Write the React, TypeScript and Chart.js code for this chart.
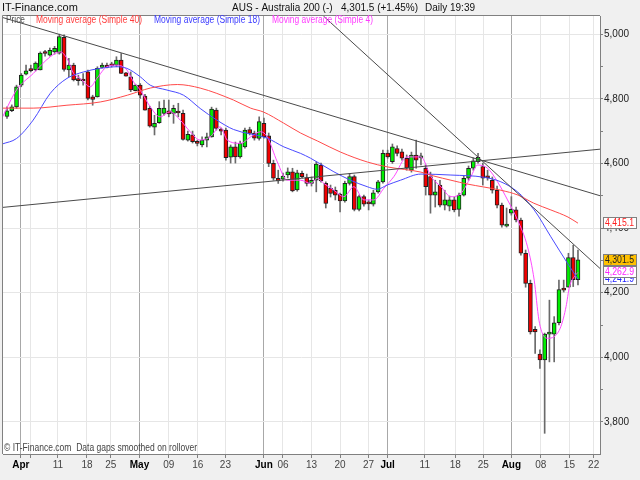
import React, { useEffect, useRef } from 'react';
import { Chart, registerables } from 'chart.js';

Chart.register(...registerables);

const FONT = "'Liberation Sans', Arial, sans-serif";
const NARROW = "'Liberation Sans Narrow', 'Liberation Sans', Arial, sans-serif";

// ---- candles (one slot per daily bar) ----
const opens = [
  4745, 4763, 4775, 4842, 4876, 4889, 4889, 4889, 4942, 4935,
  4945, 4941, 4990, 4889, 4904, 4858, 4858, 4883, 4806, 4806,
  4897, 4904, 4904, 4904, 4920, 4880, 4868, 4825, 4842, 4808,
  4770, 4712, 4726, 4755, 4763, 4755, 4757, 4755, 4672, 4688,
  4665, 4657, 4672, 4682, 4765, 4703, 4703, 4619, 4651, 4620,
  4651, 4705, 4694, 4677, 4724, 4685, 4600, 4554, 4551, 4564,
  4574, 4518, 4569, 4556, 4538, 4548, 4595, 4538, 4523, 4517,
  4505, 4484, 4538, 4559, 4458, 4497, 4478, 4474, 4512, 4543,
  4632, 4605, 4646, 4636, 4616, 4579, 4626, 4617, 4585, 4559,
  4502, 4533, 4471, 4468, 4487, 4458, 4502, 4554, 4585, 4605,
  4590, 4558, 4548, 4517, 4471, 4406, 4446, 4456, 4425, 4322,
  4229, 4087, 4010, 3992, 4072, 4072, 4107, 4212, 4217, 4309,
  4240,
];
const highs = [
  4775, 4781, 4842, 4878, 4904, 4904, 4914, 4945, 4950, 4957,
  4962, 5000, 4998, 4925, 4910, 4873, 4878, 4889, 4811, 4899,
  4910, 4910, 4913, 4930, 4940, 4882, 4883, 4845, 4847, 4814,
  4777, 4749, 4791, 4796, 4796, 4780, 4786, 4765, 4700, 4700,
  4672, 4682, 4694, 4774, 4771, 4709, 4709, 4657, 4666, 4669,
  4709, 4712, 4700, 4744, 4740, 4694, 4610, 4579, 4570, 4586,
  4585, 4579, 4576, 4567, 4558, 4605, 4601, 4543, 4533, 4527,
  4508, 4545, 4569, 4564, 4502, 4502, 4487, 4517, 4548, 4641,
  4641, 4660, 4654, 4644, 4626, 4635, 4672, 4632, 4595, 4573,
  4548, 4548, 4517, 4499, 4496, 4508, 4561, 4592, 4617, 4631,
  4601, 4579, 4558, 4530, 4477, 4462, 4497, 4465, 4431, 4332,
  4239, 4095, 4023, 4075, 4177, 4126, 4239, 4239, 4322, 4347,
  4332,
];
const lows = [
  4739, 4760, 4770, 4837, 4874, 4883, 4886, 4889, 4932, 4932,
  4938, 4938, 4885, 4868, 4855, 4842, 4842, 4796, 4780, 4805,
  4895, 4895, 4898, 4899, 4878, 4870, 4822, 4824, 4801, 4765,
  4712, 4688, 4724, 4749, 4744, 4724, 4744, 4672, 4669, 4663,
  4654, 4651, 4651, 4681, 4703, 4688, 4610, 4601, 4601, 4616,
  4647, 4688, 4672, 4672, 4678, 4590, 4548, 4538, 4545, 4555,
  4512, 4514, 4555, 4530, 4530, 4512, 4542, 4462, 4496, 4487,
  4450, 4480, 4533, 4453, 4453, 4468, 4456, 4468, 4508, 4539,
  4616, 4600, 4623, 4610, 4579, 4573, 4585, 4595, 4502, 4446,
  4465, 4465, 4456, 4453, 4450, 4437, 4499, 4548, 4579, 4601,
  4533, 4548, 4508, 4462, 4403, 4403, 4440, 4419, 4316, 4217,
  4072, 4012, 3966, 3765, 3986, 3986, 4100, 4202, 4217, 4219,
  4224,
];
const closes = [
  4763, 4775, 4837, 4873, 4886, 4887, 4910, 4941, 4940, 4950,
  4956, 4992, 4891, 4904, 4858, 4856, 4855, 4801, 4798, 4894,
  4904, 4897, 4902, 4920, 4878, 4870, 4827, 4842, 4811, 4765,
  4715, 4724, 4770, 4771, 4753, 4770, 4756, 4674, 4690, 4667,
  4662, 4672, 4682, 4768, 4708, 4700, 4618, 4651, 4620, 4662,
  4703, 4693, 4678, 4729, 4682, 4600, 4554, 4546, 4561, 4574,
  4515, 4571, 4559, 4538, 4548, 4598, 4546, 4476, 4507, 4502,
  4484, 4538, 4559, 4458, 4497, 4474, 4475, 4509, 4543, 4631,
  4620, 4651, 4631, 4616, 4585, 4626, 4610, 4623, 4528, 4502,
  4512, 4471, 4487, 4487, 4456, 4502, 4554, 4585, 4608, 4619,
  4554, 4555, 4517, 4471, 4409, 4412, 4458, 4425, 4322, 4229,
  4079, 4079, 3992, 4072, 4075, 4107, 4210, 4208, 4309, 4240,
  4301.5,
];

// ---- moving averages (slot, value) ----
const ma40X = [-1, 5.5, 12.6, 19.6, 25.3, 30.1, 35.8, 40.6, 47.6, 51.2, 53.9, 58.1, 61.7, 65.3, 70.1, 75.8, 80, 87, 89.7, 93.3, 96.8, 100.2, 103.8, 107.4, 110.7, 114.3, 117.9, 120];
const ma40Y = [4771, 4771, 4780, 4790, 4811, 4833, 4844, 4833, 4796, 4771, 4759, 4725, 4694, 4669, 4635, 4604, 4589, 4573, 4561, 4548, 4536, 4527, 4517, 4502, 4477, 4456, 4434, 4415.1];

const ma18X = [-1, 2.0, 5.5, 9.1, 12.6, 16.1, 19.6, 23.1, 25.2, 28, 30.1, 33.6, 37.1, 40.6, 44.1, 47.6, 54.7, 58.2, 61.7, 63.8, 68.7, 72.2, 75.7, 77.8, 79.9, 82.7, 87, 93.3, 100.3, 103.8, 107.3, 110.8, 114.3, 117.8, 120];
const ma18Y = [4660, 4677, 4734, 4817, 4863, 4883, 4894, 4899, 4894, 4868, 4842, 4827, 4811, 4770, 4734, 4705, 4678, 4651, 4631, 4616, 4574, 4548, 4528, 4520, 4533, 4548, 4567, 4564, 4557, 4543, 4512, 4456, 4373, 4291, 4241.9];

const ma4X = [-1, 2.0, 5.5, 9.1, 11.2, 12.6, 14.0, 15.4, 17.5, 18.9, 21.0, 23.1, 25.2, 26.6, 28, 30.1, 32.2, 34.3, 36.4, 38.5, 40.6, 42.7, 44.8, 46.3, 49.1, 51.2, 53.3, 54.7, 56.8, 58.9, 61.7, 63.8, 65.2, 66.6, 68.7, 70.8, 72.9, 75, 77.1, 79.2, 81.3, 84.1, 87, 89.1, 91.2, 93.3, 95.4, 97.5, 98.9, 101, 103.1, 105.2, 107.3, 109.4, 110.8, 111.8, 112.9, 113.6, 115, 116.4, 117.5, 118.2, 119.2, 120];
const ma4Y = [4742, 4827, 4878, 4930, 4945, 4925, 4878, 4863, 4837, 4863, 4899, 4904, 4889, 4852, 4827, 4775, 4744, 4760, 4734, 4698, 4672, 4682, 4713, 4672, 4662, 4682, 4698, 4682, 4605, 4548, 4548, 4538, 4554, 4538, 4517, 4497, 4528, 4487, 4487, 4523, 4559, 4620, 4620, 4559, 4528, 4497, 4507, 4559, 4595, 4585, 4543, 4487, 4425, 4342, 4239, 4115, 4064, 4059, 4064, 4095, 4157, 4218, 4249, 4262.9];

// ---- drawn trend lines (slot, value endpoints) ----
const trend1X = [-0.84, 124.63];
const trend1Y = [5051, 4500];
const trend2X = [-0.84, 124.63];
const trend2Y = [4464, 4644];
const trend3X = [66.5, 124.63];
const trend3Y = [5056, 4275];

// ---- axes ----
const xTickPos = [2.9, 4.84, 10.7, 16.8, 21.8, 27.85, 34, 40.1, 45.9, 54, 58, 64, 70, 76, 80, 87.8, 94.2, 100.1, 106, 112.2, 118.2, 123.3];
const xTickLabels = ['Apr', '', '11', '18', '25', 'May', '09', '16', '23', 'Jun', '06', '13', '20', '27', 'Jul', '11', '18', '25', 'Aug', '08', '15', '22'];
const monthLabels = ['Apr', 'May', 'Jun', 'Jul', 'Aug'];
const yTickValues = [3800, 3900, 4000, 4100, 4200, 4300, 4400, 4500, 4600, 4700, 4800, 4900, 5000];
const X_MIN = -0.842;
const X_MAX = 124.63;
const Y_MIN = 3701;
const Y_MAX = 5056;

const siteName = 'IT-Finance.com';
const headerParts: [string, number][] = [
  ['AUS - Australia 200 (-)', 232],
  ['4,301.5 (+1.45%)', 341],
  ['Daily', 425],
  ['19:39', 450],
];
// text, left x, fitted width, colour
const legendItems: [string, number, number, string][] = [
  ['Price', 6, 19, '#505050'],
  ['Moving average (Simple 40)', 36, 106, '#ff3c3c'],
  ['Moving average (Simple 18)', 154, 106, '#3c3cff'],
  ['Moving average (Simple 4)', 272, 101, '#ff3cff'],
];
const footnote = '\u00a9 IT-Finance.com  Data gaps smoothed on rollover';

const UP = '#00ee00';
const DOWN = '#f00000';

const fmt1 = (v: number) => v.toLocaleString('en-US', { minimumFractionDigits: 1, maximumFractionDigits: 1 });

const overlayPlugin = {
  id: 'overlay',
  beforeDraw(chart: any) {
    const { ctx, chartArea: a, width, height } = chart;
    ctx.save();
    ctx.fillStyle = '#f0f0f0';
    ctx.fillRect(0, 0, width, height);
    ctx.fillStyle = '#ffffff';
    ctx.fillRect(a.left, a.top, a.right - a.left, a.bottom - a.top);
    ctx.restore();
  },
  afterDraw(chart: any) {
    const { ctx, chartArea: a } = chart;
    const ys = chart.scales.y;
    ctx.save();
    ctx.strokeStyle = '#808080';
    ctx.lineWidth = 1;
    ctx.beginPath();
    ctx.moveTo(a.left - 0.5, a.bottom);
    ctx.lineTo(a.left - 0.5, a.top - 0.5);
    ctx.lineTo(a.right, a.top - 0.5);
    ctx.stroke();

    ctx.textBaseline = 'middle';
    ctx.textAlign = 'left';
    ctx.fillStyle = '#111111';
    ctx.font = `11px ${FONT}`;
    ctx.fillText(siteName, 2, 8);
    ctx.font = `10px ${FONT}`;
    headerParts.forEach(([t, x]) => ctx.fillText(t, x, 8));

    ctx.font = `10px ${NARROW}`;
    legendItems.forEach(([t, x, w, c]) => {
      ctx.fillStyle = c;
      ctx.fillText(t, x, 20.5, w);
    });

    ctx.fillStyle = '#444444';
    ctx.fillText(footnote, 4, 448, 193);

    const boxes = [
      { v: ma40Y[ma40Y.length - 1], fg: '#ff2020', bg: '#ffffff' },
      { v: ma18Y[ma18Y.length - 1], fg: '#2020ff', bg: '#ffffff' },
      { v: ma4Y[ma4Y.length - 1], fg: '#ff20ff', bg: '#ffffff' },
      { v: closes[closes.length - 1], fg: '#222222', bg: '#ffc000' },
    ];
    ctx.font = `10px ${FONT}`;
    boxes.forEach((b) => {
      const py = Math.round(ys.getPixelForValue(b.v));
      ctx.fillStyle = b.bg;
      ctx.fillRect(603, py - 6, 34, 12);
      ctx.strokeStyle = '#808080';
      ctx.strokeRect(603.5, py - 5.5, 33, 11);
      ctx.fillStyle = b.fg;
      ctx.fillText(fmt1(b.v), 605, py + 0.5, 29);
    });
    ctx.restore();
  },
};

export default function App() {
  const ref = useRef<HTMLCanvasElement | null>(null);

  useEffect(() => {
    if (!ref.current) return;
    const idx = opens.map((_, i) => i);
    const pts = (xs: number[], ys: number[]) => xs.map((x, i) => ({ x, y: ys[i] }));
    const lineBase = { type: 'line' as const, pointRadius: 0, borderWidth: 1, fill: false };

    const chart = new Chart(ref.current, {
      type: 'bar',
      data: {
        datasets: [
          { ...lineBase, label: 'T1', data: pts(trend1X, trend1Y), borderColor: '#4a4a4a', order: 0 },
          { ...lineBase, label: 'T2', data: pts(trend2X, trend2Y), borderColor: '#4a4a4a', order: 0 },
          { ...lineBase, label: 'T3', data: pts(trend3X, trend3Y), borderColor: '#4a4a4a', order: 0 },
          { ...lineBase, label: 'Moving average (Simple 40)', data: pts(ma40X, ma40Y), borderColor: '#ff4a4a', cubicInterpolationMode: 'monotone', order: 1 },
          { ...lineBase, label: 'Moving average (Simple 18)', data: pts(ma18X, ma18Y), borderColor: '#4a4aff', cubicInterpolationMode: 'monotone', order: 1 },
          { ...lineBase, label: 'Moving average (Simple 4)', data: pts(ma4X, ma4Y), borderColor: '#ff4aff', cubicInterpolationMode: 'monotone', order: 1 },
          {
            type: 'bar',
            label: 'Body',
            data: idx.map((i) => ({ x: i, y: [opens[i], closes[i]] })) as any,
            backgroundColor: idx.map((i) => (closes[i] >= opens[i] ? UP : DOWN)),
            borderColor: '#202020',
            borderWidth: 1,
            borderSkipped: false,
            barThickness: 4,
            minBarLength: 2,
            grouped: false,
            order: 2,
          } as any,
          {
            type: 'bar',
            label: 'Wick',
            data: idx.map((i) => ({ x: i, y: [lows[i], highs[i]] })) as any,
            backgroundColor: '#6a6a6a',
            borderWidth: 0,
            barThickness: 1,
            grouped: false,
            order: 3,
          } as any,
        ] as any,
      },
      options: {
        responsive: false,
        animation: false,
        layout: { padding: { left: 3, top: 16, right: 0, bottom: 0 } },
        plugins: { legend: { display: false }, tooltip: { enabled: false } },
        scales: {
          x: {
            type: 'linear',
            min: X_MIN,
            max: X_MAX,
            offset: false,
            afterBuildTicks: (s: any) => {
              s.ticks = xTickPos.map((v) => ({ value: v }));
            },
            afterFit: (s: any) => {
              s.height = 26;
            },
            ticks: {
              autoSkip: false,
              maxRotation: 0,
              padding: 1,
              callback: (_v: any, i: number) => xTickLabels[i],
              color: (c: any) => (monthLabels.includes(xTickLabels[c.index]) ? '#000000' : '#444444'),
              font: (c: any) => ({ family: FONT, size: 10, weight: monthLabels.includes(xTickLabels[c.index]) ? 'bold' : 'normal' }),
            },
            grid: {
              offset: false,
              color: (c: any) => (monthLabels.includes(xTickLabels[c.index]) ? '#a8a8a8' : '#e6e6e6'),
              tickColor: '#808080',
              tickLength: 4,
            },
            border: { color: '#808080' },
          } as any,
          y: {
            type: 'linear',
            position: 'right',
            min: Y_MIN,
            max: Y_MAX,
            afterBuildTicks: (s: any) => {
              s.ticks = yTickValues.map((v) => ({ value: v }));
            },
            afterFit: (s: any) => {
              s.width = 40;
            },
            ticks: {
              padding: 1,
              color: '#222222',
              font: { family: FONT, size: 10 },
              callback: (v: any) => (Number(v) % 200 === 0 ? Number(v).toLocaleString('en-US') : ''),
            },
            grid: {
              color: (c: any) => (c.tick && c.tick.value % 200 === 0 ? '#e6e6e6' : 'rgba(0,0,0,0)'),
              tickColor: '#808080',
              tickLength: 3,
            },
            border: { color: '#808080' },
          } as any,
        },
      },
      plugins: [overlayPlugin],
    });
    return () => chart.destroy();
  }, []);

  return (
    <div style={{ position: 'fixed', left: 0, top: 0, width: 640, height: 480, background: '#f0f0f0' }}>
      <canvas ref={ref} width={640} height={480} style={{ display: 'block' }} />
    </div>
  );
}
